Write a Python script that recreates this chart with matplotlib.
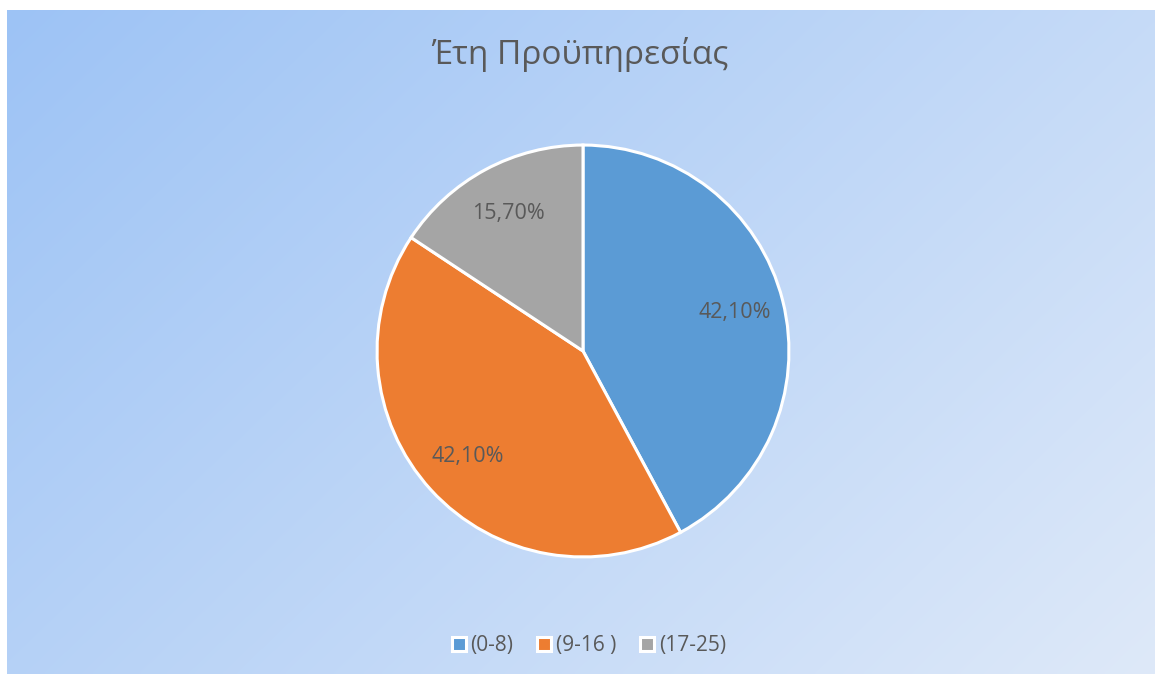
import numpy as np
import matplotlib
matplotlib.use("Agg")
import matplotlib.pyplot as plt
from matplotlib.lines import Line2D

title = "Έτη Προϋπηρεσίας"
categories = ["(0-8)", "(9-16 )", "(17-25)"]
values = [42.10, 42.10, 15.70]
labels = ["42,10%", "42,10%", "15,70%"]
colors = ["#5B9BD5", "#ED7D31", "#A5A5A5"]
text_color = "#595959"

plt.rcParams['font.family'] = ['Open Sans', 'DejaVu Sans']

W, H = 1155, 674
fig = plt.figure(figsize=(W / 100, H / 100), dpi=100)
fig.patch.set_facecolor("white")

# gradient background
bx0, by_top = 7, 10
bg = fig.add_axes([bx0 / W, 0, 1 - bx0 / W, 1 - by_top / H])
bg.set_axis_off()
nx, ny = 400, 240
xx, yy = np.meshgrid(np.linspace(0, 1, nx), np.linspace(0, 1, ny))
t = (xx * 0.75 + yy * 0.45)
t = (t - t.min()) / (t.max() - t.min())
c0 = np.array([157, 195, 245]) / 255
c1 = np.array([222, 233, 249]) / 255
img = c0[None, None, :] * (1 - t[..., None]) + c1[None, None, :] * t[..., None]
bg.imshow(img, aspect="auto", extent=[0, 1, 1, 0], interpolation="bilinear")
bg.set_xlim(0, 1)
bg.set_ylim(1, 0)

# pie
cx, cy, r = 583, 351, 208
ax = fig.add_axes([(cx - r) / W, (H - cy - r) / H, 2 * r / W, 2 * r / H])
wedges, _ = ax.pie(values, colors=colors, startangle=90, counterclock=False,
                   radius=1, wedgeprops=dict(edgecolor="white", linewidth=2.2))
ang = 90.0
tot = sum(values)
for v, lab in zip(values, labels):
    span = 360 * v / tot
    mid = np.deg2rad(ang - span / 2)
    ax.text(0.76 * np.cos(mid), 0.76 * np.sin(mid), lab, ha="center", va="center",
            fontsize=15.5, color=text_color)
    ang -= span
ax.set_xlim(-1.01, 1.01)
ax.set_ylim(-1.01, 1.01)
ax.set_axis_off()

fig.text(580 / W, 1 - 55 / H, title, ha="center", va="center", fontsize=24, color=text_color)

handles = [Line2D([0], [0], marker="s", linestyle="none", markersize=10,
                  markerfacecolor=c, markeredgecolor="white", markeredgewidth=2.2)
           for c in colors]
leg = fig.legend(handles, categories, loc="center", bbox_to_anchor=(587 / W, 1 - 646 / H),
                 ncol=3, frameon=False, fontsize=15, handletextpad=0.05,
                 columnspacing=1.0, handlelength=1.0, labelcolor=text_color)

fig.savefig("out.png", dpi=100, facecolor="white")
